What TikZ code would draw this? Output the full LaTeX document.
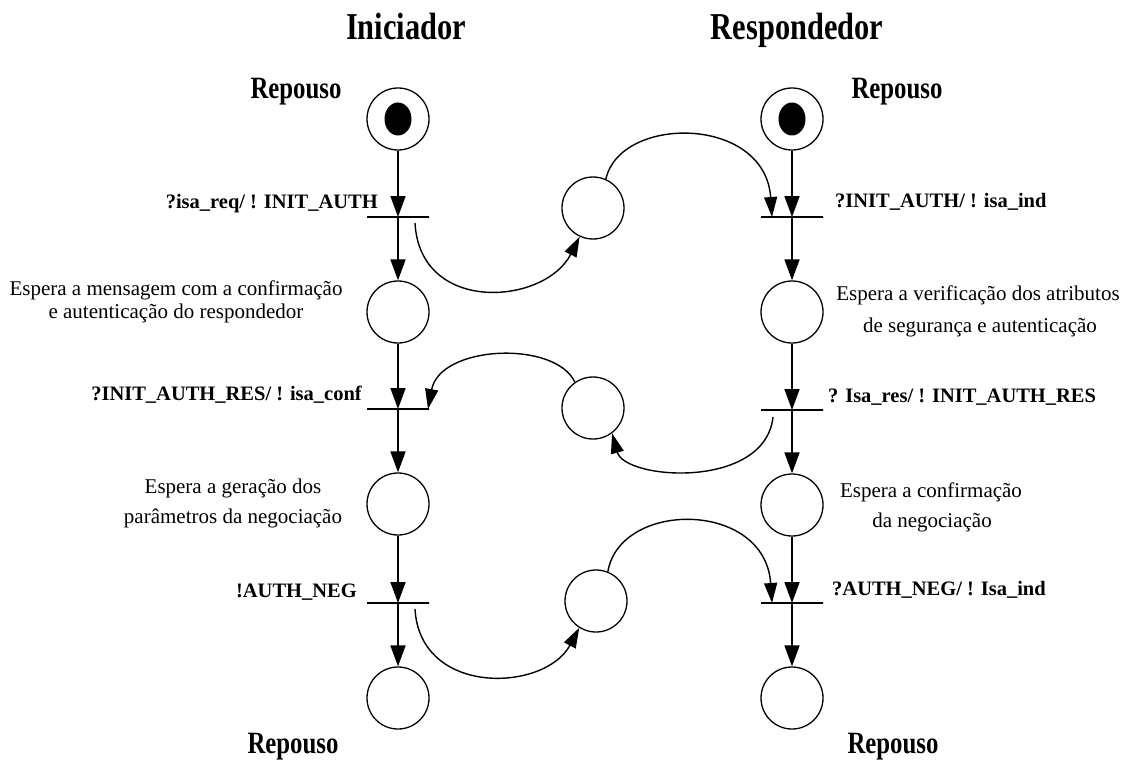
\documentclass[tikz,border=0pt]{standalone}
\usepackage{fontspec}
\setmainfont{Liberation Serif}
\newfontfamily\condfont[FakeStretch=0.8]{Liberation Serif}
\usetikzlibrary{arrows.meta}
\begin{document}
\begin{tikzpicture}[x=1pt,y=-1pt,
  place/.style={circle, draw, line width=1.3pt, minimum size=62pt, inner sep=0pt},
  bar/.style={rectangle, draw, line width=1.2pt, minimum width=62pt, minimum height=0pt, inner sep=0pt, outer sep=0pt},
  varrow/.style={line width=1.8pt, -{Triangle[length=21pt,width=15pt]}},
  carrow/.style={line width=1.4pt, -{Triangle[length=20pt,width=13pt]}},
  lbl/.style={font=\fontsize{20.5}{22}\selectfont\bfseries, inner sep=0pt},
  desc/.style={font=\fontsize{21}{23}\selectfont, inner sep=0pt, anchor=base},
  head/.style={font=\fontsize{38}{40}\condfont\bfseries, inner sep=0pt, anchor=base},
  rep/.style={font=\fontsize{31}{33}\condfont\bfseries, inner sep=0pt, anchor=base}]
\useasboundingbox (0,0) rectangle (1123,762);

% headings
\node[head] (hI) at (406,40) {Iniciador};
\node[head] (hR) at (797,40) {Respondedor};
\node[rep] (r1) at (296,99) {Repouso};
\node[rep] (r2) at (897,99) {Repouso};
\node[rep] (r3) at (293,753) {Repouso};
\node[rep] (r4) at (893,753) {Repouso};

% left column
\node[place] (p0L) at (398,119) {};
\fill (p0L.center) ellipse [x radius=13.5pt, y radius=16.5pt];
\node[bar] (t1L) at (398,217) {};
\node[place] (p1L) at (398,312) {};
\node[bar] (t2L) at (398,409) {};
\node[place] (p2L) at (398,504) {};
\node[bar] (t3L) at (398,603) {};
\node[place] (p3L) at (398,698) {};

% right column
\node[place] (p0R) at (792,119) {};
\fill (p0R.center) ellipse [x radius=13.5pt, y radius=16.5pt];
\node[bar] (t1R) at (792,217) {};
\node[place] (p1R) at (792,312) {};
\node[bar] (t2R) at (792,410) {};
\node[place] (p2R) at (792,505) {};
\node[bar] (t3R) at (792,603) {};
\node[place] (p3R) at (792,698) {};

% middle places
\node[place] (m1) at (593,208) {};
\node[place] (m2) at (593,408) {};
\node[place] (m3) at (596,601) {};

% vertical arrows
\draw[varrow] (p0L) -- (t1L);
\draw[varrow] (t1L) -- (p1L);
\draw[varrow] (p1L) -- (t2L);
\draw[varrow] (t2L) -- (p2L);
\draw[varrow] (p2L) -- (t3L);
\draw[varrow] (t3L) -- (p3L);
\draw[varrow] (p0R) -- (t1R);
\draw[varrow] (t1R) -- (p1R);
\draw[varrow] (p1R) -- (t2R);
\draw[varrow] (t2R) -- (p2R);
\draw[varrow] (p2R) -- (t3R);
\draw[varrow] (t3R) -- (p3R);

% curved arcs
\draw[carrow] ([xshift=17pt,yshift=-6pt]t1L.center) .. controls (420,315) and (545,305) .. (m1.245);
\draw[carrow] (m1.66) .. controls (620,115) and (765,115) .. ([xshift=-20pt]t1R.center);
\draw[carrow] (m2.125) .. controls (555,340) and (440,345) .. ([xshift=30pt]t2L.center);
\draw[carrow] ([xshift=-19pt,yshift=-7pt]t2R.center) .. controls (765,490) and (625,480) .. (m2.-53);
\draw[carrow] ([xshift=17pt,yshift=-6pt]t3L.center) .. controls (420,697) and (545,692) .. (m3.238);
\draw[carrow] (m3.68) .. controls (620,500) and (765,500) .. ([xshift=-20pt]t3R.center);

% transition labels
\node[lbl, anchor=base east] (l1) at (378,208) {?isa\_req/ ! INIT\_AUTH};
\node[lbl, anchor=base east] (l2) at (362,400) {?INIT\_AUTH\_RES/ ! isa\_conf};
\node[lbl, anchor=base east] (l3) at (357,597) {!AUTH\_NEG};
\node[lbl, anchor=base west] (l4) at (835,207) {?INIT\_AUTH/ ! isa\_ind};
\node[lbl, anchor=base west] (l5) at (828,402) {? Isa\_res/ ! INIT\_AUTH\_RES};
\node[lbl, anchor=base west] (l6) at (832,595) {?AUTH\_NEG/ ! Isa\_ind};

% descriptions
\node[desc] (d1a) at (176,295) {Espera a mensagem com a confirmação};
\node[desc] (d1b) at (176,318) {e autenticação do respondedor};
\node[desc] (d2a) at (233,493) {Espera a geração dos};
\node[desc] (d2b) at (233,523) {parâmetros da negociação};
\node[desc] (d3a) at (978,300) {Espera a verificação dos atributos};
\node[desc] (d3b) at (980,332) {de segurança e autenticação};
\node[desc] (d4a) at (931,497) {Espera a confirmação};
\node[desc] (d4b) at (932,527) {da negociação};
\end{tikzpicture}
\end{document}
